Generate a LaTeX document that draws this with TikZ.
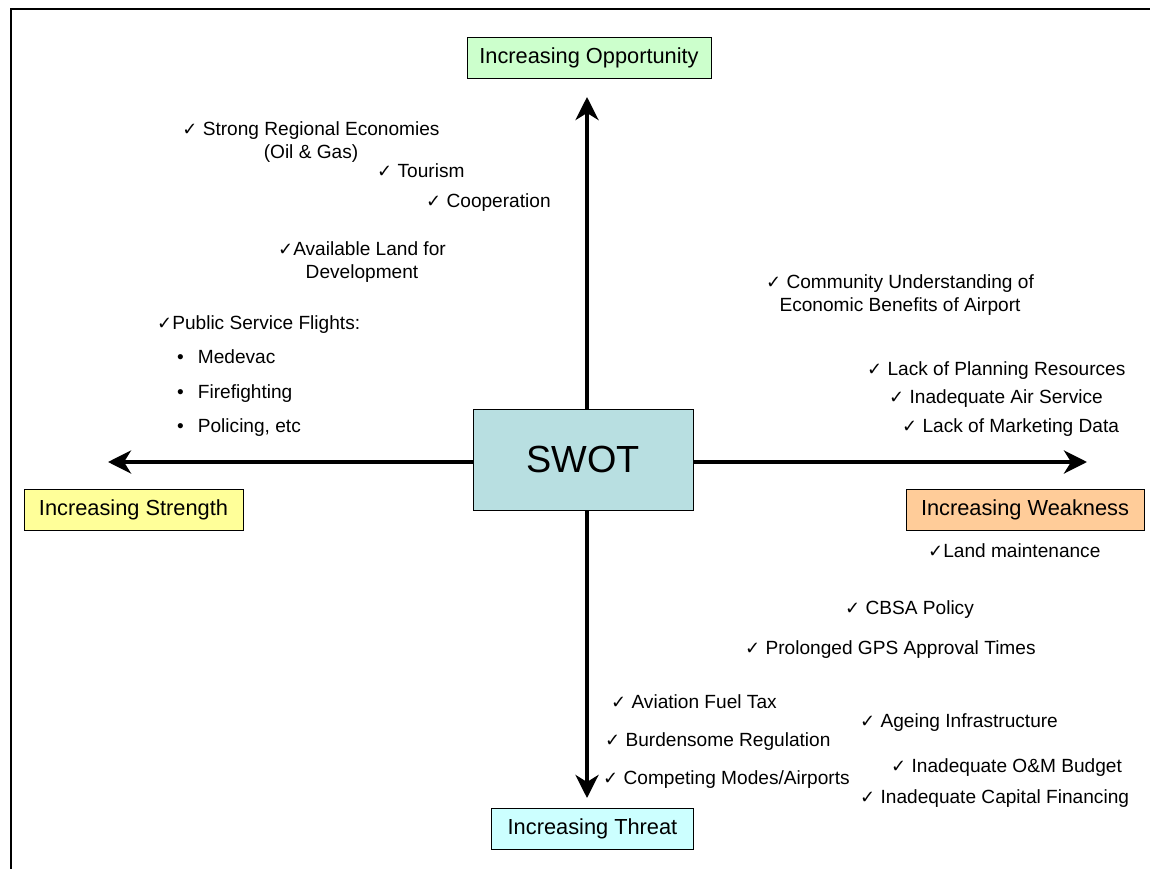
\documentclass[tikz,border=0pt]{standalone}
\usepackage{fontspec}
\setmainfont{Liberation Sans}
\newfontfamily\symfont{DejaVu Sans}
\usetikzlibrary{arrows.meta}

\definecolor{oppfill}{RGB}{204,255,204}
\definecolor{strfill}{RGB}{255,255,153}
\definecolor{weakfill}{RGB}{255,204,153}
\definecolor{thrfill}{RGB}{204,255,255}
\definecolor{swotfill}{RGB}{184,223,225}

\newcommand{\chk}{{\symfont\fontsize{18}{18}\selectfont ✓}}
\newcommand{\bul}{\textbullet\hspace{14pt}}

\begin{document}
\begin{tikzpicture}[x=1pt, y=-1pt,
   axis/.style={line width=4pt, -{Stealth[length=23pt,width=23pt,inset=7pt]}},
   tag/.style={draw, line width=0.8pt, minimum height=41pt, inner sep=0pt,
               font=\fontsize{21.8}{26}\selectfont},
   item/.style={anchor=west, inner sep=0pt, text height=13pt, text depth=4pt,
                yshift=-2pt, font=\fontsize{19.1}{22.5}\selectfont},
   pair/.style={align=center, inner sep=0pt, yshift=-2pt,
                font=\fontsize{19.1}{22.5}\selectfont}]

\useasboundingbox (0,0) rectangle (1150,869);
\draw[line width=2pt] (11,869) -- (11,9) -- (1150,9);

% centre box and the four ends
\node[draw, fill=swotfill, line width=0.8pt, minimum width=220pt, minimum height=101pt,
      font=\fontsize{37.8}{40}\selectfont] (swot) at (583,459.5) {SWOT};

\coordinate (otip) at (587,97);
\coordinate (ttip) at (587,798);
\coordinate (stip) at (108,462);
\coordinate (wtip) at (1087,462);

\draw[axis] (swot.north -| otip) -- (otip);
\draw[axis] (swot.south -| ttip) -- (ttip);
\draw[axis] (swot.west |- stip) -- (stip);
\draw[axis] (swot.east |- wtip) -- (wtip);

\node[tag, fill=oppfill, minimum width=244pt] (opp) at (589,58) {Increasing Opportunity};
\node[tag, fill=strfill, minimum width=219pt] (str) at (133.5,510) {Increasing Strength};
\node[tag, fill=weakfill, minimum width=238pt] (weak) at (1025,510) {Increasing Weakness};
\node[tag, fill=thrfill, minimum width=202pt] (thr) at (592.5,828.5) {Increasing Threat};

% opportunities
\node[pair] (o1) at (311,140) {\chk\ Strong Regional Economies\\(Oil \& Gas)};
\node[item] (o2) at (377,171) {\chk\ Tourism};
\node[item] (o3) at (426,201) {\chk\ Cooperation};
\node[pair] (o4) at (362,260) {\chk Available Land for\\Development};

% strengths
\node[item] (s1) at (157,323) {\chk Public Service Flights:};
\node[item] (s2) at (177,357) {\bul Medevac};
\node[item] (s3) at (177,392) {\bul Firefighting};
\node[item] (s4) at (177,426) {\bul Policing, etc};

% weaknesses
\node[pair] (w1) at (900,293) {\chk\ Community Understanding of\\Economic Benefits of Airport};
\node[item] (w2) at (867,369) {\chk\ Lack of Planning Resources};
\node[item] (w3) at (889,397) {\chk\ Inadequate Air Service};
\node[item] (w4) at (902,426) {\chk\ Lack of Marketing Data};
\node[item] (w5) at (928,551) {\chk Land maintenance};

% threats
\node[item] (t1) at (845,608) {\chk\ CBSA Policy};
\node[item] (t2) at (745,648) {\chk\ Prolonged GPS Approval Times};
\node[item] (t3) at (611,702) {\chk\ Aviation Fuel Tax};
\node[item] (t4) at (605,740) {\chk\ Burdensome Regulation};
\node[item] (t5) at (603,778) {\chk\ Competing Modes/Airports};
\node[item] (t6) at (860,721) {\chk\ Ageing Infrastructure};
\node[item] (t7) at (891,766) {\chk\ Inadequate O\&M Budget};
\node[item] (t8) at (860,797) {\chk\ Inadequate Capital Financing};

\end{tikzpicture}
\end{document}
